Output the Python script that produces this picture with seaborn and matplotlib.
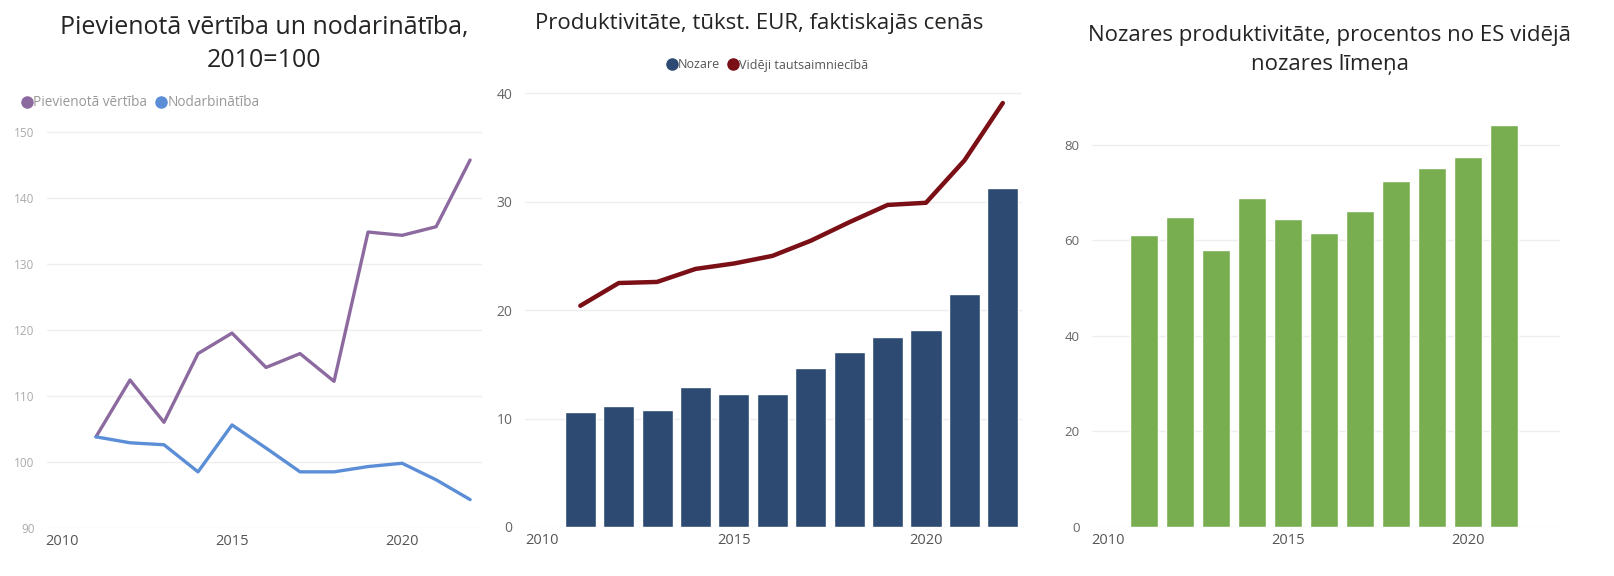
import matplotlib
matplotlib.use("Agg")
import matplotlib.pyplot as plt
from matplotlib.lines import Line2D
import seaborn as sns
import pandas as pd

# Dati
gadi_1 = [2011, 2012, 2013, 2014, 2015, 2016, 2017, 2018, 2019, 2020, 2021, 2022]
pievienota_vertiba = [103.8, 112.4, 106.0, 116.4, 119.5, 114.3, 116.4, 112.2, 134.8, 134.3, 135.6, 145.7]
nodarbinatiba = [103.8, 102.9, 102.6, 98.5, 105.6, 102.1, 98.5, 98.5, 99.3, 99.8, 97.3, 94.3]

gadi_2 = [2011, 2012, 2013, 2014, 2015, 2016, 2017, 2018, 2019, 2020, 2021, 2022]
nozare = [10.6, 11.2, 10.8, 12.9, 12.3, 12.3, 14.7, 16.1, 17.5, 18.2, 21.5, 31.3]
videji = [20.4, 22.5, 22.6, 23.8, 24.3, 25.0, 26.4, 28.1, 29.7, 29.9, 33.8, 39.1]

gadi_3 = [2011, 2012, 2013, 2014, 2015, 2016, 2017, 2018, 2019, 2020, 2021]
es_limenis = [61.2, 64.9, 58.0, 68.9, 64.5, 61.6, 66.2, 72.5, 75.2, 77.5, 84.2]

virsraksti = ["Pievienotā vērtība un nodarinātība,\n2010=100",
              "Produktivitāte, tūkst. EUR, faktiskajās cenās",
              "Nozares produktivitāte, procentos no ES vidējā\nnozares līmeņa"]

c_violets = "#8C6A9F"
c_zils = "#5B8ED6"
c_navy = "#2C4A72"
c_sarkans = "#7A0F16"
c_zals = "#78AD50"

sns.set_theme(style="white")
plt.rcParams['font.family'] = ['Open Sans', 'DejaVu Sans']

fig = plt.figure(figsize=(16.14, 5.76), dpi=100)
W, H = 1614, 576

def ax_px(x0, y0, x1, y1):
    return fig.add_axes([x0 / W, 1 - y1 / H, (x1 - x0) / W, (y1 - y0) / H])

def stils(ax, ycol, ysize):
    for s in ax.spines.values():
        s.set_visible(False)
    ax.grid(axis='y', color='#eeeeee', linewidth=1)
    ax.grid(axis='x', visible=False)
    ax.tick_params(axis='both', length=0)
    ax.tick_params(axis='y', pad=9, labelsize=ysize, labelcolor=ycol)
    ax.tick_params(axis='x', pad=4, labelsize=10.5, labelcolor='#555555')
    ax.set_xticks([2010, 2015, 2020])
    ax.set_xticklabels(['2010', '2015', '2020'])
    ax.set_xlabel('')
    ax.set_ylabel('')
    ax.set_axisbelow(True)

# 1. panelis
ax1 = ax_px(47, 125, 482, 528)
df1 = pd.DataFrame({'gads': gadi_1, 'pv': pievienota_vertiba, 'nod': nodarbinatiba})
sns.lineplot(data=df1, x='gads', y='pv', ax=ax1, color=c_violets, linewidth=2.4)
sns.lineplot(data=df1, x='gads', y='nod', ax=ax1, color=c_zils, linewidth=2.4)
ax1.set_xlim(2009.56, 2022.35)
ax1.set_ylim(90, 151)
ax1.set_yticks([90, 100, 110, 120, 130, 140, 150])
stils(ax1, '#aaaaaa', 8.5)
h1 = [Line2D([], [], marker='o', linestyle='', color=c_violets, markersize=8),
      Line2D([], [], marker='o', linestyle='', color=c_zils, markersize=8)]
leg1 = ax1.legend(h1, ['Pievienotā vērtība', 'Nodarbinātība'], ncol=2, frameon=False,
                  loc='center left', bbox_to_anchor=(13 / W, 1 - 103 / H),
                  bbox_transform=fig.transFigure, fontsize=9.8, handletextpad=0.0,
                  columnspacing=0.5, borderpad=0, handlelength=1.0)
for t in leg1.get_texts():
    t.set_color('#999999')

# 2. panelis
ax2 = ax_px(525, 90, 1022, 527)
df2 = pd.DataFrame({'gads': gadi_2, 'nozare': nozare, 'videji': videji})
sns.barplot(data=df2, x='gads', y='nozare', ax=ax2, native_scale=True, color=c_navy,
            saturation=1, width=0.81)
sns.lineplot(data=df2, x='gads', y='videji', ax=ax2, color=c_sarkans, linewidth=3.2)
ax2.set_xlim(2009.56, 2022.5)
ax2.set_ylim(0, 40.3)
ax2.set_yticks([0, 10, 20, 30, 40])
stils(ax2, '#666666', 10)
h2 = [Line2D([], [], marker='o', linestyle='', color=c_navy, markersize=8),
      Line2D([], [], marker='o', linestyle='', color=c_sarkans, markersize=8)]
leg2 = ax2.legend(h2, ['Nozare', 'Vidēji tautsaimniecībā'], ncol=2, frameon=False,
                  loc='center', bbox_to_anchor=(767 / W, 1 - 65 / H),
                  bbox_transform=fig.transFigure, fontsize=9, handletextpad=0.0,
                  columnspacing=0.5, borderpad=0, handlelength=1.0)
for t in leg2.get_texts():
    t.set_color('#555555')

# 3. panelis
ax3 = ax_px(1092, 120, 1560, 527)
df3 = pd.DataFrame({'gads': gadi_3, 'es': es_limenis})
sns.barplot(data=df3, x='gads', y='es', ax=ax3, native_scale=True, color=c_zals,
            saturation=1, width=0.78)
ax3.set_xlim(2009.56, 2022.55)
ax3.set_ylim(0, 85.2)
ax3.set_yticks([0, 20, 40, 60, 80])
stils(ax3, '#666666', 9.5)

# Virsraksti
fig.text(264 / W, 1 - 44 / H, virsraksti[0], ha='center', va='center', fontsize=18,
         color='#252423', linespacing=1.45)
fig.text(759 / W, 1 - 24 / H, virsraksti[1], ha='center', va='center', fontsize=16,
         color='#252423')
fig.text(1330 / W, 1 - 50 / H, virsraksti[2], ha='center', va='center', fontsize=16,
         color='#252423', linespacing=1.55)

fig.savefig("out.png", dpi=100)
